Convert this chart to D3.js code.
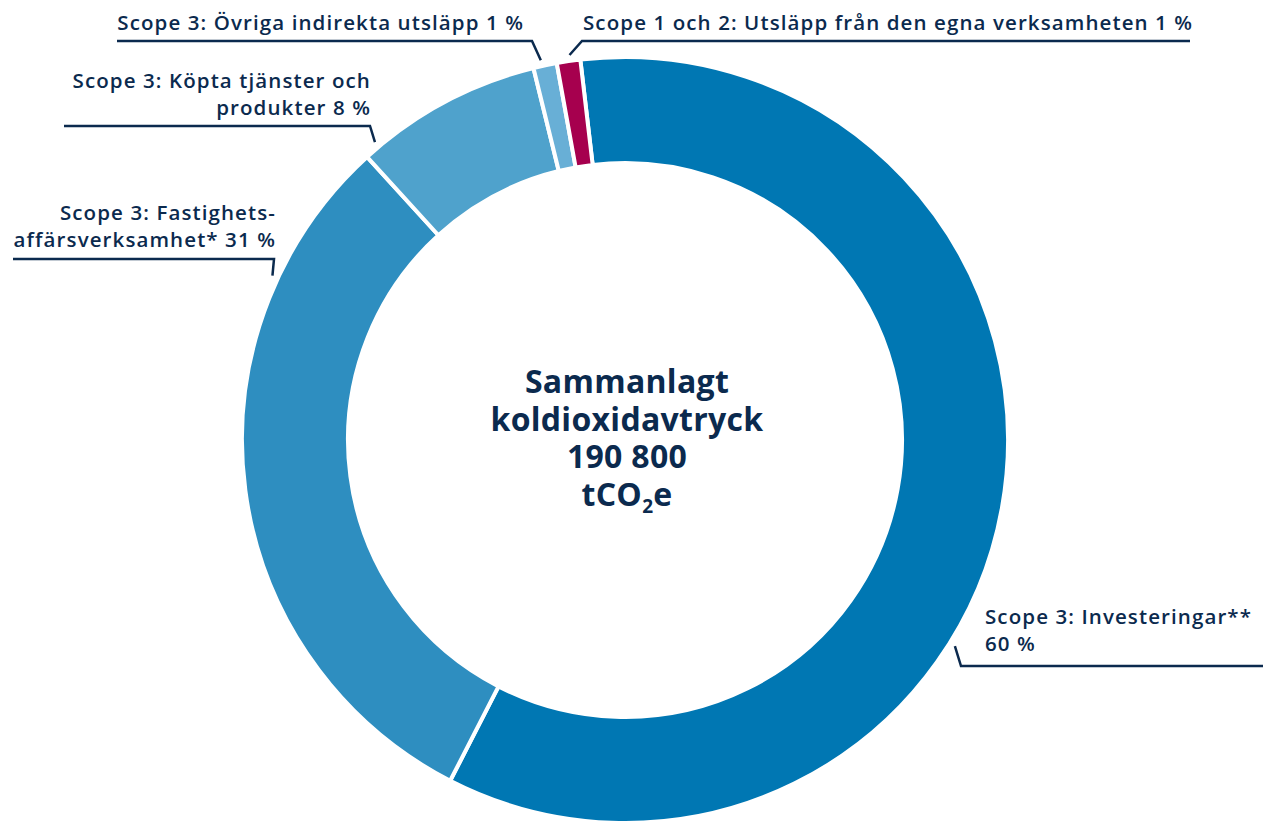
<!DOCTYPE html>
<html>
<head>
<meta charset="utf-8">
<script src="https://cdn.jsdelivr.net/npm/d3@7"></script>
<style>
  body { margin: 0; background: #fff; }
  svg { display: block; }
</style>
</head>
<body>
<div id="drawArea"></div>
<script>
// data
var categories = ["Scope 3: Investeringar**",
                  "Scope 3: Fastighetsaffärsverksamhet*",
                  "Scope 3: Köpta tjänster och produkter",
                  "Scope 3: Övriga indirekta utsläpp",
                  "Scope 1 och 2: Utsläpp från den egna verksamheten"];
var shares = [60, 31, 8, 1, 1];
var colors = ["#0077b3", "#2e8ec0", "#4fa2cc", "#68afd6", "#a6004e"];
var labelLines = [["Scope 3: Investeringar**", "60 %"],
                  ["Scope 3: Fastighets-", "affärsverksamhet* 31 %"],
                  ["Scope 3: Köpta tjänster och", "produkter 8 %"],
                  ["Scope 3: Övriga indirekta utsläpp 1 %"],
                  ["Scope 1 och 2: Utsläpp från den egna verksamheten 1 %"]];
var centerLines = ["Sammanlagt", "koldioxidavtryck", "190 800"];

var navy = "#0b2a4e";
var width = 1263, height = 823;
var cx = 625, cy = 440;
var outerR = 383, innerR = 277;
var startDeg = -6.7;

// label placement (layout only): text anchor point, leader angle on ring, elbow, end
var labelLayout = [
  { x: 985, y: 624, anchor: "start", angle: 122,   elbow: [961, 666], end: 1263 },
  { x: 276, y: 220, anchor: "end",   angle: 295,   elbow: [274, 259], end: 13 },
  { x: 371, y: 88,  anchor: "end",   angle: 320,   elbow: [370, 126], end: 64 },
  { x: 524, y: 30,  anchor: "end",   angle: 347.5, elbow: [532, 41],  end: 117 },
  { x: 583, y: 30,  anchor: "start", angle: 351.8, elbow: [582, 41],  end: 1190 }
];

var svg = d3.select("#drawArea").append("svg")
  .attr("width", width)
  .attr("height", height);

var pie = d3.pie()
  .sort(null)
  .value(function(d) { return d; })
  .startAngle(startDeg * Math.PI / 180)
  .endAngle((startDeg + 360) * Math.PI / 180);

var arc = d3.arc()
  .innerRadius(innerR)
  .outerRadius(outerR);

var g = svg.append("g").attr("transform", "translate(" + cx + "," + cy + ")");

g.selectAll("path.slice")
  .data(pie(shares))
  .enter()
  .append("path")
    .classed("slice", true)
    .attr("d", arc)
    .attr("fill", function(d, i) { return colors[i]; })
    .attr("stroke", "#fff")
    .attr("stroke-width", 4)
    .attr("stroke-linejoin", "miter");

// leader lines + labels
labelLayout.forEach(function(l, i) {
  var p = d3.pointRadial(l.angle * Math.PI / 180, outerR + 6);
  var pts = [[cx + p[0], cy + p[1]], l.elbow, [l.end, l.elbow[1]]];
  svg.append("path")
    .attr("d", d3.line()(pts))
    .attr("fill", "none")
    .attr("stroke", navy)
    .attr("stroke-width", 2.5);

  var t = svg.append("text")
    .attr("x", l.x)
    .attr("y", l.y)
    .attr("text-anchor", l.anchor)
    .attr("font-family", "'Open Sans', sans-serif")
    .attr("font-weight", 600)
    .attr("font-size", 20.5)
    .attr("letter-spacing", 1.1)
    .attr("fill", navy);
  labelLines[i].forEach(function(line, j) {
    t.append("tspan")
      .attr("x", l.x)
      .attr("dy", j == 0 ? 0 : 27)
      .text(line);
  });
});

// center text
var ct = svg.append("text")
  .attr("x", cx + 2)
  .attr("y", 393)
  .attr("text-anchor", "middle")
  .attr("font-family", "'Open Sans', sans-serif")
  .attr("font-weight", 700)
  .attr("font-size", 32)
  .attr("letter-spacing", 0.3)
  .attr("fill", navy);
centerLines.forEach(function(line, j) {
  ct.append("tspan")
    .attr("x", cx + 2)
    .attr("dy", j == 0 ? 0 : 37.5)
    .text(line);
});
var last = ct.append("tspan").attr("x", cx + 2).attr("dy", 37.5);
last.append("tspan").text("tCO");
last.append("tspan").attr("font-size", 19).attr("dy", 7).text("2");
last.append("tspan").attr("dy", -7).text("e");
</script>
</body>
</html>
